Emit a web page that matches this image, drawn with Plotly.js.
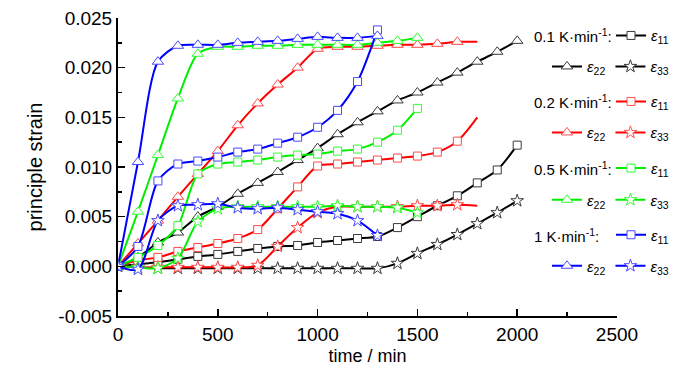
<!DOCTYPE html>
<html><head><meta charset="utf-8">
<script src="https://cdn.plot.ly/plotly-3.0.1.min.js"></script>
<style>html,body{margin:0;padding:0;background:#fff}#chart{width:700px;height:374px}</style>
</head><body><div id="chart"></div>
<script>
// ---- time axes (min) ----
const time2000 = [0,100,200,300,400,500,600,700,800,900,1000,1100,1200,1300,1400,1500,1600,1700,1800,1900,2000];
const time1800 = [0,100,200,300,400,500,600,700,800,900,1000,1100,1200,1300,1400,1500,1600,1700,1800];
const time1500 = [0,100,200,300,400,500,600,700,800,900,1000,1100,1200,1300,1400,1500];
const time1300 = [0,100,200,300,400,500,600,700,800,900,1000,1100,1200,1300];

// ---- labels ----
const rateLabels = ['0.1 K·min<sup>-1</sup>:', '0.2 K·min<sup>-1</sup>:', '0.5 K·min<sup>-1</sup>:', '1 K·min<sup>-1</sup>:'];
const strainNames = ['<i>ε</i><sub>11</sub>', '<i>ε</i><sub>22</sub>', '<i>ε</i><sub>33</sub>'];
const yTickVals = [-0.005, 0, 0.005, 0.010, 0.015, 0.020, 0.025];
const yTickLabels = ['-0.005', '0.000', '0.005', '0.010', '0.015', '0.020', '0.025'];
const xTickVals = [0, 500, 1000, 1500, 2000, 2500];
const xTickLabels = ['0', '500', '1000', '1500', '2000', '2500'];

// ---- 0.1 K/min ----
const e11_r01 = [0,0.0002,0.0004,0.0007,0.0010,0.0012,0.0015,0.0018,0.0020,0.0021,0.0024,0.0026,0.0028,0.0030,0.0039,0.0050,0.0061,0.0071,0.0084,0.0097,0.0122];
const e22_r01 = [0,0.0009,0.0024,0.0034,0.0050,0.0060,0.0073,0.0084,0.0095,0.0107,0.0119,0.0133,0.0145,0.0156,0.0167,0.0175,0.0185,0.0195,0.0206,0.0216,0.0227];
const e33_r01 = [0,-0.0001,-0.0002,-0.0002,-0.0002,-0.0002,-0.0002,-0.0002,-0.0002,-0.0002,-0.0002,-0.0002,-0.0002,-0.0002,0.0003,0.0013,0.0022,0.0032,0.0043,0.0054,0.0066];
// ---- 0.2 K/min ----
const e11_r02 = [0,0.0006,0.0009,0.0015,0.0019,0.0023,0.0028,0.0037,0.0058,0.0080,0.0101,0.0103,0.0105,0.0107,0.0109,0.0111,0.0115,0.0126,0.0150];
const e22_r02 = [0,0.0023,0.0046,0.0070,0.0093,0.0116,0.0142,0.0164,0.0183,0.0200,0.0219,0.0221,0.0221,0.0222,0.0223,0.0223,0.0224,0.0226,0.0226];
const e33_r02 = [0,-0.0001,-0.0001,-0.0001,-0.0001,-0.0001,-0.0001,0.0001,0.0020,0.0039,0.0054,0.0060,0.0060,0.0060,0.0060,0.0061,0.0061,0.0062,0.0061];
// ---- 0.5 K/min ----
const e11_r05 = [0,0.0009,0.0021,0.0041,0.0093,0.0103,0.0105,0.0107,0.0110,0.0112,0.0113,0.0116,0.0118,0.0125,0.0137,0.0159];
const e22_r05 = [0,0.0055,0.0112,0.0169,0.0214,0.0221,0.0221,0.0222,0.0222,0.0223,0.0223,0.0223,0.0223,0.0225,0.0227,0.0230];
const e33_r05 = [0,-0.0001,-0.0002,0.0008,0.0045,0.0058,0.0060,0.0060,0.0060,0.0060,0.0060,0.0061,0.0060,0.0060,0.0059,0.0054];
// ---- 1 K/min ----
const e11_r1 = [0,0.0020,0.0086,0.0103,0.0106,0.0110,0.0115,0.0118,0.0124,0.0130,0.0140,0.0157,0.0186,0.0238];
const e22_r1 = [0,0.0105,0.0206,0.0222,0.0223,0.0223,0.0225,0.0226,0.0227,0.0229,0.0231,0.0230,0.0230,0.0232];
const e33_r1 = [0,-0.0003,0.0046,0.0061,0.0062,0.0063,0.0059,0.0058,0.0059,0.0057,0.0055,0.0053,0.0046,0.0031];

// ---- styling ----
const lineColors = ['#000000', '#ff0000', '#00ee00', '#0000ff'];
const markerLineColors = ['#3a3a3a', '#ff4a4a', '#30ff30', '#4a4aff'];
const symbols = ['square', 'triangle-up', 'star'];
const symbolSizes = [8, 10, 9.5];

const groups = [
  {t: time2000, ys: [e11_r01, e22_r01, e33_r01], hideLast: false},
  {t: time1800, ys: [e11_r02, e22_r02, e33_r02], hideLast: true},
  {t: time1500, ys: [e11_r05, e22_r05, e33_r05], hideLast: false},
  {t: time1300, ys: [e11_r1, e22_r1, e33_r1], hideLast: false}
];

const traces = [];
groups.forEach((g, gi) => {
  g.ys.forEach((y, si) => {
    const legendId = 'legend' + (si === 0 ? (gi * 2 + 1) : (gi * 2 + 2));
    const opac = g.t.map((_, k) => (g.hideLast && k === g.t.length - 1) ? 0 : 1);
    traces.push({
      type: 'scatter', mode: 'lines+markers',
      x: g.t, y: y, name: strainNames[si],
      legend: legendId === 'legend1' ? 'legend' : legendId,
      line: {color: lineColors[gi], width: 2, shape: 'spline', smoothing: 0.8},
      marker: {symbol: symbols[si], size: symbolSizes[si], color: '#ffffff', opacity: opac,
               line: {color: markerLineColors[gi], width: 1}},
      hoverinfo: 'x+y'
    });
  });
});

// layout helpers (plot area: 118..617 x 18..316 px)
const rowPx = [35.7, 66.7, 101.7, 132.7, 168.3, 200, 235, 266];
const toPaperY = py => (316 - py) / 298;
const toPaperX = px => (px - 118) / 499;

const layout = {
  width: 700, height: 374,
  margin: {l: 118, r: 83, t: 18, b: 58, autoexpand: false},
  paper_bgcolor: '#ffffff', plot_bgcolor: '#ffffff',
  font: {family: '"Liberation Sans", Arial, sans-serif', size: 19, color: '#000'},
  xaxis: {
    range: [0, 2500], tickmode: 'array', tickvals: xTickVals, ticktext: xTickLabels,
    ticks: 'inside', ticklen: 7, tickwidth: 1.5, tickcolor: '#000',
    showline: true, linewidth: 2, linecolor: '#000', showgrid: false, zeroline: false,
    minor: {tickmode: 'linear', tick0: 0, dtick: 250, ticks: 'inside', ticklen: 4, tickwidth: 1.5, tickcolor: '#000', showgrid: false},
    tickfont: {size: 19},
    title: {text: 'time / min', font: {size: 18}, standoff: 6}
  },
  yaxis: {
    range: [-0.005, 0.025], tickmode: 'array', tickvals: yTickVals, ticktext: yTickLabels,
    ticks: 'inside', ticklen: 7, tickwidth: 1.5, tickcolor: '#000',
    showline: true, linewidth: 2, linecolor: '#000', showgrid: false, zeroline: false,
    minor: {tickmode: 'linear', tick0: 0, dtick: 0.0025, ticks: 'inside', ticklen: 4, tickwidth: 1.5, tickcolor: '#000', showgrid: false},
    tickfont: {size: 19},
    title: {text: 'principle strain', font: {size: 20}, standoff: 10}
  },
  annotations: [],
  showlegend: true
};

for (let r = 0; r < 8; r++) {
  const key = r === 0 ? 'legend' : 'legend' + (r + 1);
  const isFirstRow = r % 2 === 0;
  layout[key] = {
    x: toPaperX(isFirstRow ? 611 : 547), xanchor: 'left',
    y: toPaperY(rowPx[r]), yanchor: 'middle',
    orientation: 'h', bgcolor: 'rgba(0,0,0,0)', borderwidth: 0,
    font: {size: 15, color: '#000'}, itemwidth: 30, traceorder: 'normal',
    itemclick: false, itemdoubleclick: false
  };
}
rateLabels.forEach((lab, i) => {
  layout.annotations.push({
    text: lab, xref: 'paper', yref: 'paper', x: toPaperX(532), y: toPaperY(rowPx[i * 2]),
    xanchor: 'left', yanchor: 'middle', showarrow: false, font: {size: 15, color: '#000'}
  });
});

Plotly.newPlot('chart', traces, layout, {displayModeBar: false, staticPlot: true});
</script>
</body></html>
